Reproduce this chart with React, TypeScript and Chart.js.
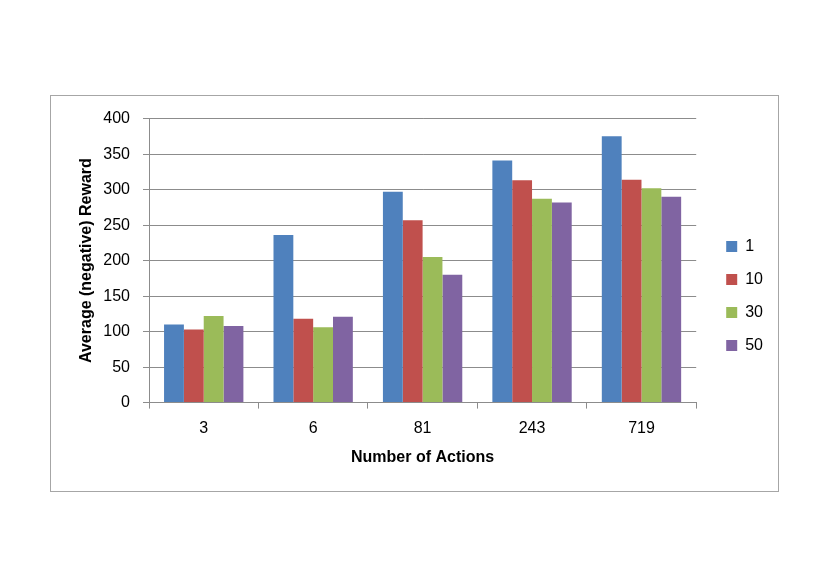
import React, { useEffect, useRef } from "react";
import { Chart, registerables } from "chart.js";

Chart.register(...registerables);

const categories = ["3", "6", "81", "243", "719"];
const seriesNames = ["1", "10", "30", "50"];
const series1 = [110, 236, 297, 341, 375];
const series10 = [103, 118, 257, 313, 314];
const series30 = [122, 106, 205, 287, 302];
const series50 = [108, 121, 180, 282, 290];
const colors = ["#4F81BD", "#C0504D", "#9BBB59", "#8064A2"];

const FONT = "'Liberation Sans', Arial, sans-serif";
const GRID = "#8c8c8c";

export default function App() {
  const ref = useRef<HTMLCanvasElement | null>(null);

  useEffect(() => {
    if (!ref.current) return;
    const values = [series1, series10, series30, series50];
    const chart = new Chart(ref.current, {
      type: "bar",
      data: {
        labels: categories,
        datasets: seriesNames.map((name, i) => ({
          label: name,
          data: values[i],
          backgroundColor: colors[i],
          borderWidth: 0,
          categoryPercentage: 0.725,
          barPercentage: 1,
        })),
      },
      options: {
        responsive: false,
        animation: false,
        devicePixelRatio: 1,
        layout: { padding: { left: 22, top: 21, bottom: 16, right: 5 } },
        plugins: {
          tooltip: { enabled: false },
          legend: {
            position: "right",
            align: "center",
            labels: {
              boxWidth: 11,
              boxHeight: 11,
              padding: 17,
              color: "#000",
              font: { family: FONT, size: 16 },
            },
          },
        },
        scales: {
          x: {
            grid: {
              display: true,
              drawOnChartArea: false,
              drawTicks: true,
              tickLength: 6,
              color: GRID,
              offset: true,
            },
            border: { display: true, color: GRID, width: 1 },
            ticks: { color: "#000", padding: 10, font: { family: FONT, size: 16 } },
            title: {
              display: true,
              text: "Number of Actions",
              color: "#000",
              padding: { top: 0, bottom: 8 },
              font: { family: FONT, size: 16, weight: "bold" },
            },
          },
          y: {
            min: 0,
            max: 400,
            ticks: { stepSize: 50, color: "#000", padding: 13, font: { family: FONT, size: 16 } },
            grid: { color: GRID, tickLength: 6, drawTicks: true },
            border: { display: true, color: GRID, width: 1 },
            title: {
              display: true,
              text: "Average (negative) Reward",
              color: "#000",
              padding: { top: 4, bottom: 4 },
              font: { family: FONT, size: 16, weight: "bold" },
            },
            afterFit: (scale: any) => {
              scale.width = 76;
            },
          },
          y2: {
            position: "right",
            display: true,
            grid: { display: false, drawTicks: false },
            border: { display: false },
            ticks: { display: false },
            afterFit: (scale: any) => {
              scale.width = 13;
            },
          },
        },
      },
    });
    return () => chart.destroy();
  }, []);

  return (
    <div
      style={{
        position: "absolute",
        left: 50,
        top: 95,
        width: 729,
        height: 397,
        border: "1px solid #a6a6a6",
        boxSizing: "border-box",
        background: "#fff",
      }}
    >
      <canvas ref={ref} width={727} height={395} style={{ display: "block" }} />
    </div>
  );
}
